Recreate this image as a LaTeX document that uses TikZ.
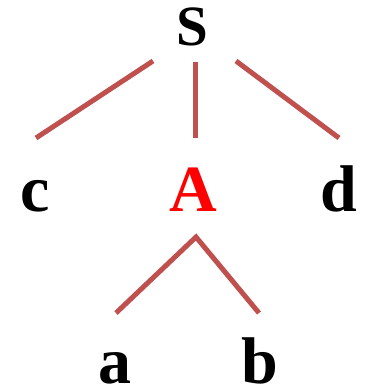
\documentclass[tikz,border=0pt]{standalone}
\usepackage{fontspec}
\setmainfont{Liberation Serif}
\definecolor{edgecol}{RGB}{192,80,77}
\begin{document}
\begin{tikzpicture}[x=1pt,y=1pt,
  lbl/.style={inner sep=0pt,anchor=base,font=\bfseries\fontsize{66}{66}\selectfont},
  root/.style={inner sep=0pt,anchor=base,font=\bfseries\fontsize{57}{57}\selectfont},
  edge/.style={draw=edgecol,line width=5pt}]
\useasboundingbox (0,0) rectangle (366,391);
\node[root] (S) at (192,345) {S};
\node[lbl] (c) at (35.5,179) {c};
\node[lbl,text=red] (A) at (193,179) {A};
\node[lbl] (d) at (338.5,179) {d};
\node[lbl] (a) at (115,8) {a};
\node[lbl] (b) at (259.5,8) {b};
\coordinate (Sc) at (153,330);
\coordinate (cS) at (36,253);
\coordinate (SA) at (195,329);
\coordinate (AS) at (195,253);
\coordinate (Sd) at (236,330);
\coordinate (dS) at (339,253);
\coordinate (Atop) at (196,154);
\coordinate (aA) at (116,78);
\coordinate (bA) at (259,78);
\draw[edge] (Sc) -- (cS);
\draw[edge] (SA) -- (AS);
\draw[edge] (Sd) -- (dS);
\draw[edge,line join=miter] (aA) -- (Atop) -- (bA);
\end{tikzpicture}
\end{document}
